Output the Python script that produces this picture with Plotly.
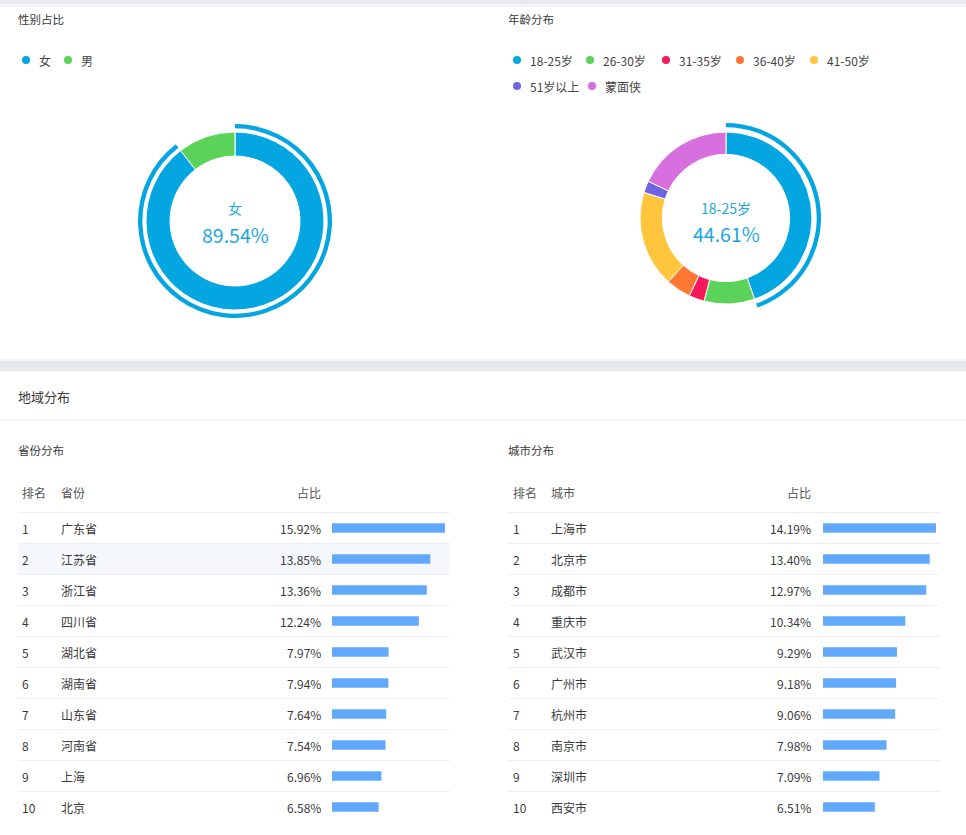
import plotly.graph_objects as go

W, H = 966, 835
FONT = "Noto Sans CJK SC, Microsoft YaHei, sans-serif"

# ---------------- data ----------------
gender_labels = ["女", "男"]
gender_values = [89.54, 10.46]
gender_colors = ["#03a6e0", "#5bd35b"]

age_labels = ["18-25岁", "26-30岁", "31-35岁", "36-40岁", "41-50岁", "51岁以上", "蒙面侠"]
age_values = [44.61, 9.5, 2.9, 4.7, 18.1, 2.2, 17.99]
age_colors = ["#03a6e0", "#5bd35b", "#f5195b", "#ff7733", "#ffc53d", "#6d63e3", "#d86fdf"]

prov_rank = list(range(1, 11))
prov_names = ["广东省", "江苏省", "浙江省", "四川省", "湖北省", "湖南省", "山东省", "河南省", "上海", "北京"]
prov_values = [15.92, 13.85, 13.36, 12.24, 7.97, 7.94, 7.64, 7.54, 6.96, 6.58]

city_rank = list(range(1, 11))
city_names = ["上海市", "北京市", "成都市", "重庆市", "武汉市", "广州市", "杭州市", "南京市", "深圳市", "西安市"]
city_values = [14.19, 13.40, 12.97, 10.34, 9.29, 9.18, 9.06, 7.98, 7.09, 6.51]

BAR_COLOR = "#62a9fc"
TEXT = "#3a3a3a"
BLUE_TXT = "#1ea6e0"


def px(x):
    return x / W


def py(y):
    return 1 - y / H


fig = go.Figure()


def donut(cx, cy, r, hole, values, labels, colors, lw=1.0):
    fig.add_trace(go.Pie(
        values=values, labels=labels, hole=hole, sort=False,
        direction="clockwise", rotation=0, textinfo="none",
        marker=dict(colors=colors, line=dict(color="white", width=lw)),
        domain=dict(x=[px(cx - r), px(cx + r)], y=[py(cy + r), py(cy - r)]),
        showlegend=False, hoverinfo="label+percent",
    ))


GCX, GCY = 235, 221
ACX, ACY = 726, 218

# gender donut + highlight arc
donut(GCX, GCY, 89, 0.73, gender_values, gender_labels, gender_colors)
donut(GCX, GCY, 97, 0.955, gender_values, gender_labels,
      [gender_colors[0], "rgba(0,0,0,0)"], lw=0)

# age donut + highlight arc
donut(ACX, ACY, 86, 0.74, age_values, age_labels, age_colors)
donut(ACX, ACY, 95, 0.955, [age_values[0], sum(age_values[1:])],
      [age_labels[0], "其他"], [age_colors[0], "rgba(0,0,0,0)"], lw=0)

# bars
fig.add_trace(go.Bar(
    x=prov_values, y=prov_names, orientation="h", width=0.3,
    marker=dict(color=BAR_COLOR, line=dict(width=0)),
    xaxis="x", yaxis="y", showlegend=False, hoverinfo="y+x",
))
fig.add_trace(go.Bar(
    x=city_values, y=city_names, orientation="h", width=0.3,
    marker=dict(color=BAR_COLOR, line=dict(width=0)),
    xaxis="x2", yaxis="y2", showlegend=False, hoverinfo="y+x",
))

ROW0, ROWH = 528, 31
ydom = [py(ROW0 + 9 * ROWH + ROWH / 2), py(ROW0 - ROWH / 2)]

ax_common = dict(visible=False, fixedrange=True, showgrid=False, zeroline=False)
fig.update_layout(
    xaxis=dict(domain=[px(332), px(445)], range=[0, max(prov_values)], anchor="y", **ax_common),
    yaxis=dict(domain=ydom, autorange="reversed", type="category", anchor="x", **ax_common),
    xaxis2=dict(domain=[px(823), px(936)], range=[0, max(city_values)], anchor="y2", **ax_common),
    yaxis2=dict(domain=ydom, autorange="reversed", type="category", anchor="x2", **ax_common),
)

ann = []
shapes = []


def text(x, y, s, size=12, color=TEXT, anchor="left"):
    dx = {"left": -2, "right": 2, "center": 0}[anchor]
    ann.append(dict(x=px(x + dx), y=py(y), xref="paper", yref="paper", text=s,
                    showarrow=False, xanchor=anchor, yanchor="middle",
                    font=dict(family=FONT, size=size, color=color)))


def rect(x0, y0, x1, y1, color):
    shapes.append(dict(type="rect", xref="paper", yref="paper",
                       x0=px(x0), x1=px(x1), y0=py(y1), y1=py(y0),
                       fillcolor=color, line=dict(width=0), layer="below"))


def hline(x0, x1, y, color="#eeeff2"):
    shapes.append(dict(type="line", xref="paper", yref="paper",
                       x0=px(x0), x1=px(x1), y0=py(y), y1=py(y),
                       line=dict(color=color, width=1), layer="below"))


def dot(x, y, color, r=4):
    shapes.append(dict(type="circle", xref="paper", yref="paper",
                       x0=px(x - r), x1=px(x + r), y0=py(y + r), y1=py(y - r),
                       fillcolor=color, line=dict(width=0)))


# background bands
rect(0, 0, W, 4, "#e9e9ee")
rect(0, 4, W, 7, "#f4f4f7")
rect(0, 361, W, 371, "#e7e8ee")
rect(0, 359, W, 361, "#f2f2f5")
hline(0, W, 420, "#ececee")

# section titles
text(18, 19, "性别占比", 11.5)
text(508, 19, "年龄分布", 11.5)
text(18, 396, "地域分布", 13)
text(18, 450, "省份分布", 11.5)
text(508, 450, "城市分布", 11.5)

# legends
gender_leg = [(26, 60), (68, 60)]
for (x, y), lab, col in zip(gender_leg, gender_labels, gender_colors):
    dot(x, y, col)
    text(x + 13, y, lab, 12, "#444")

age_leg = [(517, 60), (590, 60), (666, 60), (740, 60), (814, 60), (517, 86), (592, 86)]
for (x, y), lab, col in zip(age_leg, age_labels, age_colors):
    dot(x, y, col)
    text(x + 13, y, lab, 12, "#444")

# center labels
text(GCX, GCY - 13, gender_labels[0], 14, BLUE_TXT, "center")
text(GCX, GCY + 13, f"{gender_values[0]:.2f}%", 19.5, BLUE_TXT, "center")
text(ACX, ACY - 10, age_labels[0], 14, BLUE_TXT, "center")
text(ACX, ACY + 15, f"{age_values[0]:.2f}%", 19.5, BLUE_TXT, "center")

# tables
rect(18, ROW0 + ROWH / 2, 450, ROW0 + ROWH * 1.5, "#f4f7fc")


def table(x0, x1, rank_x, name_x, val_x, head_name, ranks, names, values):
    text(rank_x, 492, "排名", 12, "#555")
    text(name_x, 492, head_name, 12, "#555")
    text(val_x, 492, "占比", 12, "#555", "right")
    for i in range(10):
        hline(x0, x1, ROW0 - ROWH / 2 + i * ROWH)
    for i, (r, n, v) in enumerate(zip(ranks, names, values)):
        y = ROW0 + i * ROWH
        text(rank_x, y, str(r), 12, TEXT)
        text(name_x, y, n, 12, TEXT)
        text(val_x, y, f"{v:.2f}%", 12, TEXT, "right")


table(18, 450, 22, 61, 321, "省份", prov_rank, prov_names, prov_values)
table(508, 940, 513, 551, 811, "城市", city_rank, city_names, city_values)

fig.update_layout(
    width=W, height=H, margin=dict(l=0, r=0, t=0, b=0),
    paper_bgcolor="white", plot_bgcolor="rgba(0,0,0,0)",
    annotations=ann, shapes=shapes, showlegend=False,
    font=dict(family=FONT),
)

fig.write_html("out.html", config={"displayModeBar": False})
